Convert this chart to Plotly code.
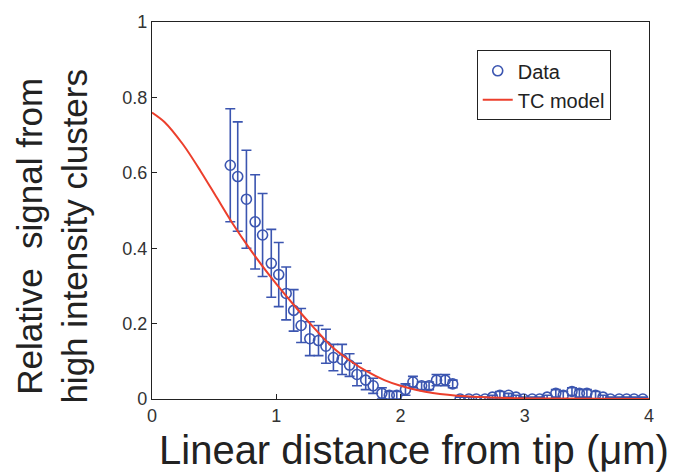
import plotly.graph_objects as go

# Measured signal vs. distance from the tip
distance_um = [0.63, 0.69, 0.76, 0.83, 0.89, 0.96, 1.02, 1.08, 1.14, 1.20,
               1.27, 1.34, 1.40, 1.46, 1.53, 1.59, 1.65, 1.72, 1.78, 1.85,
               1.91, 1.97, 2.04, 2.10, 2.17, 2.23, 2.29, 2.36, 2.42, 2.48,
               2.55, 2.61, 2.68, 2.74, 2.80, 2.87, 2.93, 2.99, 3.06, 3.12,
               3.18, 3.25, 3.31, 3.38, 3.44, 3.50, 3.57, 3.63, 3.69, 3.76,
               3.82, 3.88, 3.95]
signal = [0.62, 0.59, 0.53, 0.47, 0.435, 0.36, 0.33, 0.28, 0.235, 0.195,
          0.16, 0.155, 0.14, 0.11, 0.105, 0.09, 0.065, 0.05, 0.035, 0.015,
          0.01, 0.01, 0.025, 0.045, 0.035, 0.035, 0.05, 0.05, 0.04, 0.0,
          0.0, 0.0, 0.0, 0.005, 0.01, 0.01, 0.005, 0.0, 0.0, 0.0,
          0.005, 0.015, 0.01, 0.02, 0.015, 0.015, 0.01, 0.005, 0.0, 0.0,
          0.0, 0.0, 0.0]
signal_err = [0.15, 0.145, 0.13, 0.125, 0.11, 0.09, 0.085, 0.07, 0.055, 0.045,
              0.045, 0.04, 0.045, 0.035, 0.04, 0.03, 0.03, 0.025, 0.02, 0.015,
              0.01, 0.01, 0.015, 0.015, 0.01, 0.01, 0.015, 0.015, 0.01, 0.005,
              0.005, 0.005, 0.005, 0.005, 0.01, 0.005, 0.005, 0.005, 0.005, 0.005,
              0.005, 0.01, 0.01, 0.01, 0.01, 0.01, 0.01, 0.005, 0.005, 0.005,
              0.005, 0.005, 0.005]

# TC model curve
model_x = [0.0, 0.10, 0.25, 0.39, 0.52, 0.65, 0.79, 0.96, 1.14, 1.30,
           1.46, 1.60, 1.73, 1.87, 2.00, 2.13, 2.26, 2.53, 2.80, 3.20, 4.00]
model_y = [0.76, 0.735, 0.675, 0.605, 0.535, 0.465, 0.397, 0.322, 0.25, 0.19,
           0.135, 0.10, 0.073, 0.05, 0.035, 0.024, 0.016, 0.007, 0.003, 0.001, 0.0]

x_ticks = [0, 1, 2, 3, 4]
y_ticks = [0, 0.2, 0.4, 0.6, 0.8, 1]
y_tick_text = ["0", "0.2", "0.4", "0.6", "0.8", "1"]

X_TITLE = "Linear distance from tip (\u03bcm)"
Y_TITLE = "Relative  signal from<br>high intensity clusters"

BLUE = "#3b55b0"
RED = "#ec3f2c"
FONT = "Liberation Sans, Arial, sans-serif"

fig = go.Figure()

fig.add_trace(go.Scatter(
    x=distance_um, y=signal, mode="markers", name="Data",
    marker=dict(symbol="circle-open", size=10, color=BLUE,
                line=dict(width=1.6, color=BLUE)),
    error_y=dict(type="data", array=signal_err, visible=True,
                 color=BLUE, thickness=1.6, width=5),
))

fig.add_trace(go.Scatter(
    x=model_x, y=model_y, mode="lines", name="TC model",
    line=dict(color=RED, width=2, shape="spline", smoothing=0.8),
))

axis_common = dict(
    showline=True, linecolor="#222", linewidth=1.3, mirror=True,
    ticks="inside", ticklen=5, tickcolor="#222", tickwidth=1,
    showgrid=False, zeroline=False,
    tickfont=dict(family=FONT, size=18, color="#333"),
)

fig.update_xaxes(range=[0, 4], tickvals=x_ticks,
                 ticktext=[str(v) for v in x_ticks], **axis_common)
fig.update_yaxes(range=[0, 1], tickvals=y_ticks,
                 ticktext=y_tick_text, **axis_common)

# Axis titles placed as paper-anchored annotations
fig.add_annotation(
    text=X_TITLE, xref="paper", yref="paper", x=0.528, y=-0.135,
    xanchor="center", yanchor="middle", showarrow=False,
    font=dict(family=FONT, size=40, color="#222"),
)
fig.add_annotation(
    text=Y_TITLE, xref="paper", yref="paper", x=-0.201, y=0.431,
    xanchor="center", yanchor="middle", showarrow=False, textangle=-90,
    font=dict(family=FONT, size=35, color="#222"),
)

fig.update_layout(
    width=686, height=472,
    margin=dict(l=152, r=37, t=16, b=73),
    plot_bgcolor="white", paper_bgcolor="white",
    showlegend=True,
    legend=dict(
        x=0.923, y=0.925, xanchor="right", yanchor="top",
        bgcolor="white", bordercolor="#222", borderwidth=1,
        font=dict(family=FONT, size=20, color="#222"),
        tracegroupgap=0, itemwidth=30,
    ),
)

fig.write_html("out.html")
